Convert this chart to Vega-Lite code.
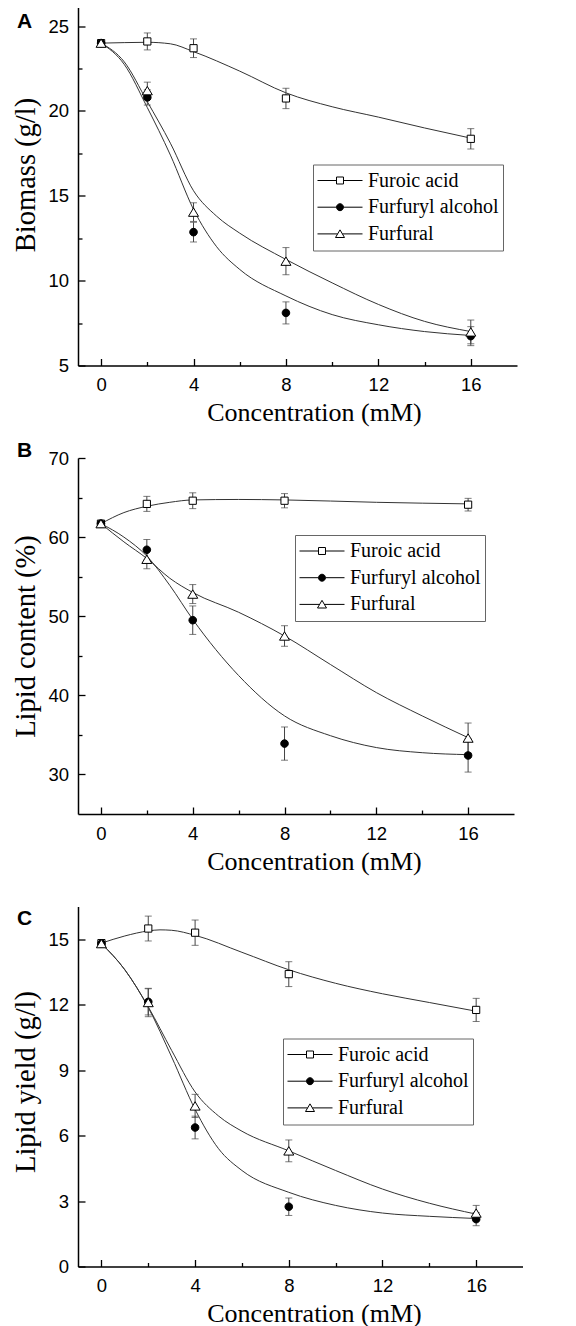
{
  "$schema": "https://vega.github.io/schema/vega-lite/v6.json",
  "padding": {"left": 11, "top": 7.5, "right": 0, "bottom": 0},
  "background": "white",
  "bounds": "flush",
  "spacing": 92.5,
  "resolve": {"scale": {"shape": "independent", "fill": "independent"}, "legend": {"shape": "independent", "fill": "independent"}},
  "config": {
    "view": {"stroke": null},
    "axis": {
      "domainColor": "black", "domainWidth": 1.5,
      "tickColor": "black", "tickWidth": 1.3,
      "labelFont": "Liberation Sans", "labelFontSize": 18.5, "labelColor": "black",
      "titleFont": "Liberation Serif", "titleFontSize": 28.5, "titleFontWeight": "normal", "titleColor": "black",
      "grid": false, "labelFlush": false, "labelOverlap": false
    },
    "axisX": {"titleFontSize": 26},
    "legend": {
      "labelFont": "Liberation Serif", "labelFontSize": 20, "labelColor": "black",
      "padding": 4, "strokeColor": "#666", "fillColor": "white",
      "symbolSize": 2025, "clipHeight": 24, "rowPadding": 2.7, "labelOffset": 5,
      "symbolStrokeWidth": 1, "symbolStrokeColor": "black", "symbolOpacity": 1, "labelLimit": 300
    },
    "title": {"font": "Liberation Sans", "fontSize": 21, "fontWeight": "bold", "color": "black", "anchor": "start", "frame": "group"}
  },
  "datasets": {
    "ptsA": [
      {"series": "Furoic acid", "conc": 0, "value": 24.0, "err": 0},
      {"series": "Furoic acid", "conc": 2, "value": 24.1, "err": 0.5},
      {"series": "Furoic acid", "conc": 4, "value": 23.7, "err": 0.55},
      {"series": "Furoic acid", "conc": 8, "value": 20.74, "err": 0.6},
      {"series": "Furoic acid", "conc": 16, "value": 18.36, "err": 0.6},
      {"series": "Furfuryl alcohol", "conc": 0, "value": 24.0, "err": 0},
      {"series": "Furfuryl alcohol", "conc": 2, "value": 20.8, "err": 0.45},
      {"series": "Furfuryl alcohol", "conc": 4, "value": 12.86, "err": 0.58},
      {"series": "Furfuryl alcohol", "conc": 8, "value": 8.1, "err": 0.65},
      {"series": "Furfuryl alcohol", "conc": 16, "value": 6.73, "err": 0.56},
      {"series": "Furfural", "conc": 0, "value": 24.0, "err": 0},
      {"series": "Furfural", "conc": 2, "value": 21.2, "err": 0.5},
      {"series": "Furfural", "conc": 4, "value": 14.04, "err": 0.55},
      {"series": "Furfural", "conc": 8, "value": 11.15, "err": 0.8},
      {"series": "Furfural", "conc": 16, "value": 6.98, "err": 0.7}
    ],
    "fitA": [
      {"series": "Furoic acid", "conc": 0, "fit": 24.0},
      {"series": "Furoic acid", "conc": 1, "fit": 24.03},
      {"series": "Furoic acid", "conc": 2, "fit": 24.05},
      {"series": "Furoic acid", "conc": 3, "fit": 23.96},
      {"series": "Furoic acid", "conc": 4, "fit": 23.5},
      {"series": "Furoic acid", "conc": 6, "fit": 22.35},
      {"series": "Furoic acid", "conc": 8, "fit": 21.07},
      {"series": "Furoic acid", "conc": 10, "fit": 20.25},
      {"series": "Furoic acid", "conc": 12, "fit": 19.64},
      {"series": "Furoic acid", "conc": 14, "fit": 19.0},
      {"series": "Furoic acid", "conc": 16, "fit": 18.4},
      {"series": "Furfuryl alcohol", "conc": 0, "fit": 24.0},
      {"series": "Furfuryl alcohol", "conc": 1, "fit": 22.75},
      {"series": "Furfuryl alcohol", "conc": 2, "fit": 20.2},
      {"series": "Furfuryl alcohol", "conc": 3, "fit": 17.4},
      {"series": "Furfuryl alcohol", "conc": 4, "fit": 14.2},
      {"series": "Furfuryl alcohol", "conc": 5, "fit": 12.0},
      {"series": "Furfuryl alcohol", "conc": 6, "fit": 10.66},
      {"series": "Furfuryl alcohol", "conc": 8, "fit": 9.1},
      {"series": "Furfuryl alcohol", "conc": 10, "fit": 8.0},
      {"series": "Furfuryl alcohol", "conc": 12, "fit": 7.4},
      {"series": "Furfuryl alcohol", "conc": 14, "fit": 7.0},
      {"series": "Furfuryl alcohol", "conc": 16, "fit": 6.77},
      {"series": "Furfural", "conc": 0, "fit": 24.0},
      {"series": "Furfural", "conc": 1, "fit": 22.9},
      {"series": "Furfural", "conc": 2, "fit": 20.55},
      {"series": "Furfural", "conc": 3, "fit": 18.1},
      {"series": "Furfural", "conc": 4, "fit": 15.3},
      {"series": "Furfural", "conc": 5, "fit": 13.8},
      {"series": "Furfural", "conc": 6, "fit": 12.8},
      {"series": "Furfural", "conc": 8, "fit": 11.25},
      {"series": "Furfural", "conc": 10, "fit": 9.87},
      {"series": "Furfural", "conc": 12, "fit": 8.6},
      {"series": "Furfural", "conc": 14, "fit": 7.6},
      {"series": "Furfural", "conc": 16, "fit": 7.0}
    ],
    "ptsB": [
      {"series": "Furoic acid", "conc": 0, "value": 61.7, "err": 0},
      {"series": "Furoic acid", "conc": 2, "value": 64.2, "err": 0.95},
      {"series": "Furoic acid", "conc": 4, "value": 64.6, "err": 1.0},
      {"series": "Furoic acid", "conc": 8, "value": 64.6, "err": 0.9},
      {"series": "Furoic acid", "conc": 16, "value": 64.1, "err": 0.8},
      {"series": "Furfuryl alcohol", "conc": 0, "value": 61.7, "err": 0},
      {"series": "Furfuryl alcohol", "conc": 2, "value": 58.4, "err": 1.3},
      {"series": "Furfuryl alcohol", "conc": 4, "value": 49.5, "err": 1.8},
      {"series": "Furfuryl alcohol", "conc": 8, "value": 33.9, "err": 2.1},
      {"series": "Furfuryl alcohol", "conc": 16, "value": 32.4, "err": 2.1},
      {"series": "Furfural", "conc": 0, "value": 61.7, "err": 0},
      {"series": "Furfural", "conc": 2, "value": 57.2, "err": 1.2},
      {"series": "Furfural", "conc": 4, "value": 52.8, "err": 1.2},
      {"series": "Furfural", "conc": 8, "value": 47.5, "err": 1.3},
      {"series": "Furfural", "conc": 16, "value": 34.6, "err": 1.9}
    ],
    "fitB": [
      {"series": "Furoic acid", "conc": 0, "fit": 61.7},
      {"series": "Furoic acid", "conc": 1, "fit": 63.1},
      {"series": "Furoic acid", "conc": 2, "fit": 63.9},
      {"series": "Furoic acid", "conc": 3, "fit": 64.4},
      {"series": "Furoic acid", "conc": 4, "fit": 64.7},
      {"series": "Furoic acid", "conc": 6, "fit": 64.76},
      {"series": "Furoic acid", "conc": 8, "fit": 64.7},
      {"series": "Furoic acid", "conc": 12, "fit": 64.4},
      {"series": "Furoic acid", "conc": 16, "fit": 64.2},
      {"series": "Furfuryl alcohol", "conc": 0, "fit": 61.7},
      {"series": "Furfuryl alcohol", "conc": 1, "fit": 60.0},
      {"series": "Furfuryl alcohol", "conc": 2, "fit": 57.6},
      {"series": "Furfuryl alcohol", "conc": 3, "fit": 53.9},
      {"series": "Furfuryl alcohol", "conc": 4, "fit": 49.6},
      {"series": "Furfuryl alcohol", "conc": 5, "fit": 45.8},
      {"series": "Furfuryl alcohol", "conc": 6, "fit": 42.5},
      {"series": "Furfuryl alcohol", "conc": 8, "fit": 37.4},
      {"series": "Furfuryl alcohol", "conc": 10, "fit": 34.9},
      {"series": "Furfuryl alcohol", "conc": 12, "fit": 33.4},
      {"series": "Furfuryl alcohol", "conc": 14, "fit": 32.75},
      {"series": "Furfuryl alcohol", "conc": 16, "fit": 32.5},
      {"series": "Furfural", "conc": 0, "fit": 61.7},
      {"series": "Furfural", "conc": 1, "fit": 59.4},
      {"series": "Furfural", "conc": 2, "fit": 57.3},
      {"series": "Furfural", "conc": 3, "fit": 54.8},
      {"series": "Furfural", "conc": 4, "fit": 53.0},
      {"series": "Furfural", "conc": 6, "fit": 50.5},
      {"series": "Furfural", "conc": 8, "fit": 47.5},
      {"series": "Furfural", "conc": 10, "fit": 43.9},
      {"series": "Furfural", "conc": 12, "fit": 40.35},
      {"series": "Furfural", "conc": 14, "fit": 37.4},
      {"series": "Furfural", "conc": 16, "fit": 34.65}
    ],
    "ptsC": [
      {"series": "Furoic acid", "conc": 0, "value": 14.82, "err": 0},
      {"series": "Furoic acid", "conc": 2, "value": 15.49, "err": 0.57},
      {"series": "Furoic acid", "conc": 4, "value": 15.3, "err": 0.58},
      {"series": "Furoic acid", "conc": 8, "value": 13.4, "err": 0.57},
      {"series": "Furoic acid", "conc": 16, "value": 11.76, "err": 0.53},
      {"series": "Furfuryl alcohol", "conc": 0, "value": 14.8, "err": 0},
      {"series": "Furfuryl alcohol", "conc": 2, "value": 12.13, "err": 0.6},
      {"series": "Furfuryl alcohol", "conc": 4, "value": 6.37, "err": 0.52},
      {"series": "Furfuryl alcohol", "conc": 8, "value": 2.74, "err": 0.4},
      {"series": "Furfuryl alcohol", "conc": 16, "value": 2.17, "err": 0.3},
      {"series": "Furfural", "conc": 0, "value": 14.8, "err": 0},
      {"series": "Furfural", "conc": 2, "value": 12.1, "err": 0.65},
      {"series": "Furfural", "conc": 4, "value": 7.36, "err": 0.53},
      {"series": "Furfural", "conc": 8, "value": 5.3, "err": 0.5},
      {"series": "Furfural", "conc": 16, "value": 2.45, "err": 0.35}
    ],
    "fitC": [
      {"series": "Furoic acid", "conc": 0, "fit": 14.82},
      {"series": "Furoic acid", "conc": 1, "fit": 15.15},
      {"series": "Furoic acid", "conc": 2, "fit": 15.38},
      {"series": "Furoic acid", "conc": 2.5, "fit": 15.43},
      {"series": "Furoic acid", "conc": 3, "fit": 15.41},
      {"series": "Furoic acid", "conc": 4, "fit": 15.18},
      {"series": "Furoic acid", "conc": 6, "fit": 14.4},
      {"series": "Furoic acid", "conc": 8, "fit": 13.6},
      {"series": "Furoic acid", "conc": 10, "fit": 12.98},
      {"series": "Furoic acid", "conc": 12, "fit": 12.5},
      {"series": "Furoic acid", "conc": 14, "fit": 12.1},
      {"series": "Furoic acid", "conc": 16, "fit": 11.7},
      {"series": "Furfuryl alcohol", "conc": 0, "fit": 14.8},
      {"series": "Furfuryl alcohol", "conc": 1, "fit": 13.6},
      {"series": "Furfuryl alcohol", "conc": 2, "fit": 11.87},
      {"series": "Furfuryl alcohol", "conc": 3, "fit": 9.6},
      {"series": "Furfuryl alcohol", "conc": 4, "fit": 7.2},
      {"series": "Furfuryl alcohol", "conc": 5, "fit": 5.4},
      {"series": "Furfuryl alcohol", "conc": 6, "fit": 4.4},
      {"series": "Furfuryl alcohol", "conc": 8, "fit": 3.4},
      {"series": "Furfuryl alcohol", "conc": 10, "fit": 2.8},
      {"series": "Furfuryl alcohol", "conc": 12, "fit": 2.45},
      {"series": "Furfuryl alcohol", "conc": 14, "fit": 2.3},
      {"series": "Furfuryl alcohol", "conc": 16, "fit": 2.2},
      {"series": "Furfural", "conc": 0, "fit": 14.8},
      {"series": "Furfural", "conc": 1, "fit": 13.6},
      {"series": "Furfural", "conc": 2, "fit": 11.9},
      {"series": "Furfural", "conc": 3, "fit": 9.9},
      {"series": "Furfural", "conc": 4, "fit": 8.0},
      {"series": "Furfural", "conc": 5, "fit": 6.9},
      {"series": "Furfural", "conc": 6, "fit": 6.2},
      {"series": "Furfural", "conc": 8, "fit": 5.3},
      {"series": "Furfural", "conc": 10, "fit": 4.4},
      {"series": "Furfural", "conc": 12, "fit": 3.55},
      {"series": "Furfural", "conc": 14, "fit": 2.9},
      {"series": "Furfural", "conc": 16, "fit": 2.4}
    ]
  },
  "vconcat": [
    {
      "width": 439, "height": 358,
      "title": {"text": "A", "offset": -24, "dx": -61},
      "layer": [
        {
          "data": {"name": "fitA"},
          "mark": {"type": "line", "interpolate": "monotone", "color": "#333", "strokeWidth": 1},
          "encoding": {
            "x": {"field": "conc", "type": "quantitative", "title": "Concentration (mM)", "scale": {"domain": [-1, 18], "nice": false, "zero": false},
              "axis": {"values": [0, 2, 4, 6, 8, 10, 12, 14, 16],
                "labelExpr": "datum.value % 4 === 0 ? datum.label : ''",
                "tickSize": {"condition": {"test": "datum.value % 4 === 0", "value": -7}, "value": -4},
                "labelPadding": 17, "titlePadding": 2.5, "titleX": 236}},
            "y": {"field": "fit", "type": "quantitative", "title": "Biomass (g/l)", "scale": {"domain": [5, 26.1], "nice": false, "zero": false},
              "axis": {"values": [5, 7.5, 10, 12.5, 15, 17.5, 20, 22.5, 25],
                "labelExpr": "datum.value % 5 === 0 ? datum.label : ''",
                "tickSize": {"condition": {"test": "datum.value % 5 === 0", "value": -7}, "value": -4},
                "labelPadding": 16.5, "titlePadding": 7, "titleY": 167}},
            "detail": {"field": "series"}
          }
        },
        {
          "data": {"name": "ptsA"},
          "transform": [{"filter": "datum.err > 0"}],
          "mark": {"type": "errorbar", "color": "#444", "ticks": {"size": 7, "color": "#444"}},
          "encoding": {
            "x": {"field": "conc", "type": "quantitative", "title": "Concentration (mM)"},
            "y": {"field": "value", "type": "quantitative", "title": "Biomass (g/l)"},
            "yError": {"field": "err"}
          }
        },
        {
          "data": {"name": "ptsA"},
          "mark": {"type": "point", "filled": true, "opacity": 1, "size": 0, "stroke": "black", "strokeWidth": 1},
          "encoding": {
            "x": {"field": "conc", "type": "quantitative", "title": "Concentration (mM)"},
            "y": {"field": "value", "type": "quantitative", "title": "Biomass (g/l)"},
            "shape": {"field": "series", "type": "nominal",
              "scale": {"domain": ["Furoic acid", "Furfuryl alcohol", "Furfural"],
                "range": ["M-1,0H-0.155M0.155,0H1M-0.155,-0.155H0.155V0.155H-0.155Z", "M-1,0H-0.155M0.155,0H1M0.155,0A0.155,0.155,0,1,1,-0.155,0A0.155,0.155,0,1,1,0.155,0Z", "M-1,0H-0.11M0.11,0H1M0,-0.18L0.2,0.16L-0.2,0.16Z"]},
              "legend": {"title": null, "orient": "none", "legendX": 235, "legendY": 157, "labelFont": "Liberation Serif", "labelFontSize": 20, "symbolStrokeColor": "black", "symbolStrokeWidth": 1, "symbolSize": 2025,
                "encoding": {"symbols": {"stroke": {"value": "black"}, "strokeWidth": {"value": 1}, "strokeOpacity": {"value": 1}, "opacity": {"value": 1}}}}},
            "fill": {"field": "series", "type": "nominal",
              "scale": {"domain": ["Furoic acid", "Furfuryl alcohol", "Furfural"], "range": ["white", "black", "white"]}}
          }
        },
        {
          "data": {"name": "ptsA"},
          "transform": [{"filter": "datum.series === 'Furoic acid'"}],
          "mark": {"type": "point", "shape": "M-0.36,-0.36H0.36V0.36H-0.36Z", "size": 400, "filled": true, "fill": "white", "stroke": "black", "strokeWidth": 1, "opacity": 1},
          "encoding": {"x": {"field": "conc", "type": "quantitative"}, "y": {"field": "value", "type": "quantitative"}}
        },
        {
          "data": {"name": "ptsA"},
          "transform": [{"filter": "datum.series === 'Furfuryl alcohol'"}],
          "mark": {"type": "point", "shape": "M0.38,0A0.38,0.38,0,1,1,-0.38,0A0.38,0.38,0,1,1,0.38,0Z", "size": 400, "filled": true, "fill": "black", "stroke": "black", "strokeWidth": 1, "opacity": 1},
          "encoding": {"x": {"field": "conc", "type": "quantitative"}, "y": {"field": "value", "type": "quantitative"}}
        },
        {
          "data": {"name": "ptsA"},
          "transform": [{"filter": "datum.series === 'Furfural'"}],
          "mark": {"type": "point", "shape": "M0,-0.42L0.5,0.42L-0.5,0.42Z", "size": 400, "filled": true, "fill": "white", "stroke": "black", "strokeWidth": 1, "opacity": 1},
          "encoding": {"x": {"field": "conc", "type": "quantitative"}, "y": {"field": "value", "type": "quantitative"}}
        }
      ]
    },
    {
      "width": 436, "height": 356,
      "title": {"text": "B", "offset": -12, "dx": -61},
      "layer": [
        {
          "data": {"name": "fitB"},
          "mark": {"type": "line", "interpolate": "monotone", "color": "#333", "strokeWidth": 1},
          "encoding": {
            "x": {"field": "conc", "type": "quantitative", "title": "Concentration (mM)", "scale": {"domain": [-1, 18], "nice": false, "zero": false},
              "axis": {"values": [0, 2, 4, 6, 8, 10, 12, 14, 16],
                "labelExpr": "datum.value % 4 === 0 ? datum.label : ''",
                "tickSize": {"condition": {"test": "datum.value % 4 === 0", "value": -7}, "value": -4},
                "labelPadding": 17, "titlePadding": 2.5, "titleX": 236}},
            "y": {"field": "fit", "type": "quantitative", "title": "Lipid content (%)", "scale": {"domain": [25, 70], "nice": false, "zero": false},
              "axis": {"values": [30, 35, 40, 45, 50, 55, 60, 65, 70],
                "labelExpr": "datum.value % 10 === 0 ? datum.label : ''",
                "tickSize": {"condition": {"test": "datum.value % 10 === 0", "value": -7}, "value": -4},
                "labelPadding": 16.5, "titlePadding": 7}},
            "detail": {"field": "series"}
          }
        },
        {
          "data": {"name": "ptsB"},
          "transform": [{"filter": "datum.err > 0"}],
          "mark": {"type": "errorbar", "color": "#444", "ticks": {"size": 7, "color": "#444"}},
          "encoding": {
            "x": {"field": "conc", "type": "quantitative", "title": "Concentration (mM)"},
            "y": {"field": "value", "type": "quantitative", "title": "Lipid content (%)"},
            "yError": {"field": "err"}
          }
        },
        {
          "data": {"name": "ptsB"},
          "mark": {"type": "point", "filled": true, "opacity": 1, "size": 0, "stroke": "black", "strokeWidth": 1},
          "encoding": {
            "x": {"field": "conc", "type": "quantitative", "title": "Concentration (mM)"},
            "y": {"field": "value", "type": "quantitative", "title": "Lipid content (%)"},
            "shape": {"field": "series", "type": "nominal",
              "scale": {"domain": ["Furoic acid", "Furfuryl alcohol", "Furfural"],
                "range": ["M-1,0H-0.155M0.155,0H1M-0.155,-0.155H0.155V0.155H-0.155Z", "M-1,0H-0.155M0.155,0H1M0.155,0A0.155,0.155,0,1,1,-0.155,0A0.155,0.155,0,1,1,0.155,0Z", "M-1,0H-0.11M0.11,0H1M0,-0.18L0.2,0.16L-0.2,0.16Z"]},
              "legend": {"title": null, "orient": "none", "legendX": 217, "legendY": 77, "labelFont": "Liberation Serif", "labelFontSize": 20, "symbolStrokeColor": "black", "symbolStrokeWidth": 1, "symbolSize": 2025,
                "encoding": {"symbols": {"stroke": {"value": "black"}, "strokeWidth": {"value": 1}, "strokeOpacity": {"value": 1}, "opacity": {"value": 1}}}}},
            "fill": {"field": "series", "type": "nominal",
              "scale": {"domain": ["Furoic acid", "Furfuryl alcohol", "Furfural"], "range": ["white", "black", "white"]}}
          }
        },
        {
          "data": {"name": "ptsB"},
          "transform": [{"filter": "datum.series === 'Furoic acid'"}],
          "mark": {"type": "point", "shape": "M-0.36,-0.36H0.36V0.36H-0.36Z", "size": 400, "filled": true, "fill": "white", "stroke": "black", "strokeWidth": 1, "opacity": 1},
          "encoding": {"x": {"field": "conc", "type": "quantitative"}, "y": {"field": "value", "type": "quantitative"}}
        },
        {
          "data": {"name": "ptsB"},
          "transform": [{"filter": "datum.series === 'Furfuryl alcohol'"}],
          "mark": {"type": "point", "shape": "M0.38,0A0.38,0.38,0,1,1,-0.38,0A0.38,0.38,0,1,1,0.38,0Z", "size": 400, "filled": true, "fill": "black", "stroke": "black", "strokeWidth": 1, "opacity": 1},
          "encoding": {"x": {"field": "conc", "type": "quantitative"}, "y": {"field": "value", "type": "quantitative"}}
        },
        {
          "data": {"name": "ptsB"},
          "transform": [{"filter": "datum.series === 'Furfural'"}],
          "mark": {"type": "point", "shape": "M0,-0.42L0.5,0.42L-0.5,0.42Z", "size": 400, "filled": true, "fill": "white", "stroke": "black", "strokeWidth": 1, "opacity": 1},
          "encoding": {"x": {"field": "conc", "type": "quantitative"}, "y": {"field": "value", "type": "quantitative"}}
        }
      ]
    },
    {
      "width": 445, "height": 360,
      "title": {"text": "C", "offset": -22, "dx": -61},
      "layer": [
        {
          "data": {"name": "fitC"},
          "mark": {"type": "line", "interpolate": "monotone", "color": "#333", "strokeWidth": 1},
          "encoding": {
            "x": {"field": "conc", "type": "quantitative", "title": "Concentration (mM)", "scale": {"domain": [-1, 18], "nice": false, "zero": false},
              "axis": {"values": [0, 2, 4, 6, 8, 10, 12, 14, 16],
                "labelExpr": "datum.value % 4 === 0 ? datum.label : ''",
                "tickSize": {"condition": {"test": "datum.value % 4 === 0", "value": -7}, "value": -4},
                "labelPadding": 17, "titlePadding": 2.5, "titleX": 236}},
            "y": {"field": "fit", "type": "quantitative", "title": "Lipid yield (g/l)", "scale": {"domain": [0, 16.5], "nice": false, "zero": false},
              "axis": {"values": [0, 1.5, 3, 4.5, 6, 7.5, 9, 10.5, 12, 13.5, 15, 16.5],
                "labelExpr": "datum.value % 3 === 0 ? datum.label : ''",
                "tickSize": {"condition": {"test": "datum.value % 3 === 0", "value": -7}, "value": -4},
                "labelPadding": 16.5, "titlePadding": 7, "titleY": 175}},
            "detail": {"field": "series"}
          }
        },
        {
          "data": {"name": "ptsC"},
          "transform": [{"filter": "datum.err > 0"}],
          "mark": {"type": "errorbar", "color": "#444", "ticks": {"size": 7, "color": "#444"}},
          "encoding": {
            "x": {"field": "conc", "type": "quantitative", "title": "Concentration (mM)"},
            "y": {"field": "value", "type": "quantitative", "title": "Lipid yield (g/l)"},
            "yError": {"field": "err"}
          }
        },
        {
          "data": {"name": "ptsC"},
          "mark": {"type": "point", "filled": true, "opacity": 1, "size": 0, "stroke": "black", "strokeWidth": 1},
          "encoding": {
            "x": {"field": "conc", "type": "quantitative", "title": "Concentration (mM)"},
            "y": {"field": "value", "type": "quantitative", "title": "Lipid yield (g/l)"},
            "shape": {"field": "series", "type": "nominal",
              "scale": {"domain": ["Furoic acid", "Furfuryl alcohol", "Furfural"],
                "range": ["M-1,0H-0.155M0.155,0H1M-0.155,-0.155H0.155V0.155H-0.155Z", "M-1,0H-0.155M0.155,0H1M0.155,0A0.155,0.155,0,1,1,-0.155,0A0.155,0.155,0,1,1,0.155,0Z", "M-1,0H-0.11M0.11,0H1M0,-0.18L0.2,0.16L-0.2,0.16Z"]},
              "legend": {"title": null, "orient": "none", "legendX": 205, "legendY": 132, "labelFont": "Liberation Serif", "labelFontSize": 20, "symbolStrokeColor": "black", "symbolStrokeWidth": 1, "symbolSize": 2025,
                "encoding": {"symbols": {"stroke": {"value": "black"}, "strokeWidth": {"value": 1}, "strokeOpacity": {"value": 1}, "opacity": {"value": 1}}}}},
            "fill": {"field": "series", "type": "nominal",
              "scale": {"domain": ["Furoic acid", "Furfuryl alcohol", "Furfural"], "range": ["white", "black", "white"]}}
          }
        },
        {
          "data": {"name": "ptsC"},
          "transform": [{"filter": "datum.series === 'Furoic acid'"}],
          "mark": {"type": "point", "shape": "M-0.36,-0.36H0.36V0.36H-0.36Z", "size": 400, "filled": true, "fill": "white", "stroke": "black", "strokeWidth": 1, "opacity": 1},
          "encoding": {"x": {"field": "conc", "type": "quantitative"}, "y": {"field": "value", "type": "quantitative"}}
        },
        {
          "data": {"name": "ptsC"},
          "transform": [{"filter": "datum.series === 'Furfuryl alcohol'"}],
          "mark": {"type": "point", "shape": "M0.38,0A0.38,0.38,0,1,1,-0.38,0A0.38,0.38,0,1,1,0.38,0Z", "size": 400, "filled": true, "fill": "black", "stroke": "black", "strokeWidth": 1, "opacity": 1},
          "encoding": {"x": {"field": "conc", "type": "quantitative"}, "y": {"field": "value", "type": "quantitative"}}
        },
        {
          "data": {"name": "ptsC"},
          "transform": [{"filter": "datum.series === 'Furfural'"}],
          "mark": {"type": "point", "shape": "M0,-0.42L0.5,0.42L-0.5,0.42Z", "size": 400, "filled": true, "fill": "white", "stroke": "black", "strokeWidth": 1, "opacity": 1},
          "encoding": {"x": {"field": "conc", "type": "quantitative"}, "y": {"field": "value", "type": "quantitative"}}
        }
      ]
    }
  ]
}
